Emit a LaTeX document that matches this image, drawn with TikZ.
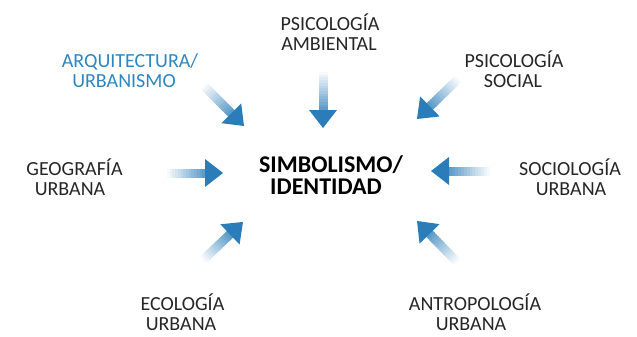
\documentclass[tikz,border=0pt]{standalone}
\usepackage{fontspec}
\setmainfont{Carlito}
\usetikzlibrary{calc}
\definecolor{arrowblue}{HTML}{2A7DB8}
\definecolor{titleblue}{HTML}{2E86C1}
\tikzset{
  lbl/.style={anchor=base, inner sep=0pt, font=\fontsize{20}{20}\selectfont, text=black!85},
  lblblue/.style={lbl, text=titleblue},
  core/.style={anchor=base, inner sep=0pt, font=\fontsize{24}{24}\selectfont\bfseries, text=black},
}
\newcommand{\gradarrow}[2]{%
  \coordinate (#2-base) at ($(#2)!18pt!(#1)$);
  \foreach \i in {0,...,13}{%
    \pgfmathsetmacro{\pa}{\i/14}%
    \pgfmathsetmacro{\pb}{(\i+1)/14+0.02}%
    \pgfmathsetmacro{\pc}{4+\i*5.5}%
    \draw[line width=9pt, line cap=butt, draw=arrowblue!\pc!white]
      ($(#1)!\pa!(#2-base)$) -- ($(#1)!\pb!(#2-base)$);
  }
  \fill[arrowblue] (#2) -- ($(#2-base)!14pt!90:(#2)$) -- ($(#2-base)!14pt!-90:(#2)$) -- cycle;
}
\begin{document}
\begin{tikzpicture}[x=1pt,y=-1pt]
\useasboundingbox (0,0) rectangle (637,337);
% labels
\node[lbl] (psa1) at (330,31) {PSICOLOGÍA};
\node[lbl] (psa2) at (329,51) {AMBIENTAL};
\node[lblblue] (arq1) at (130,67) {ARQUITECTURA/};
\node[lblblue] (arq2) at (124,87) {URBANISMO};
\node[lbl] (pss1) at (514,67) {PSICOLOGÍA};
\node[lbl] (pss2) at (513,87) {SOCIAL};
\node[lbl] (geo1) at (74.5,175) {GEOGRAFÍA};
\node[lbl] (geo2) at (70,195) {URBANA};
\node[lbl] (soc1) at (570,175) {SOCIOLOGÍA};
\node[lbl] (soc2) at (571,195) {URBANA};
\node[lbl] (eco1) at (182.5,310) {ECOLOGÍA};
\node[lbl] (eco2) at (181,330) {URBANA};
\node[lbl] (ant1) at (475,310) {ANTROPOLOGÍA};
\node[lbl] (ant2) at (471,330) {URBANA};
\node[core] (sim1) at (331,172) {SIMBOLISMO/};
\node[core] (sim2) at (326,194) {IDENTIDAD};
% arrow ends
\coordinate (tT) at (323,72);   \coordinate (hT) at (323,128);
\coordinate (tTL) at (204,86);  \coordinate (hTL) at (244,126);
\coordinate (tTR) at (458,79);  \coordinate (hTR) at (417,119);
\coordinate (tL) at (167,173);  \coordinate (hL) at (223,173);
\coordinate (tR) at (490,171);  \coordinate (hR) at (431,171);
\coordinate (tBL) at (203,260); \coordinate (hBL) at (243,222);
\coordinate (tBR) at (457,262); \coordinate (hBR) at (417,221);
\gradarrow{tT}{hT}
\gradarrow{tTL}{hTL}
\gradarrow{tTR}{hTR}
\gradarrow{tL}{hL}
\gradarrow{tR}{hR}
\gradarrow{tBL}{hBL}
\gradarrow{tBR}{hBR}
\end{tikzpicture}
\end{document}
